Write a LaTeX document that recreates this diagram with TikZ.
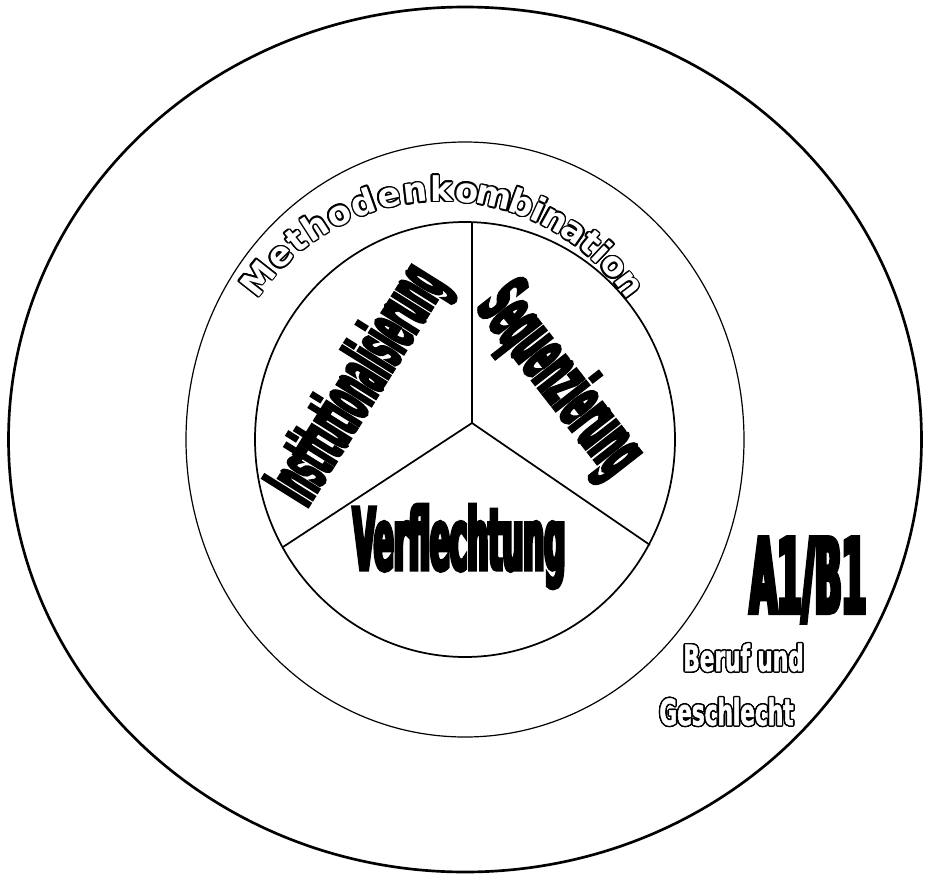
\documentclass[tikz,border=0pt]{standalone}
\usepackage{fontspec}
\usepackage{contour}
\contourlength{1.1pt}
\newfontfamily\heavyfont{DejaVu Sans}[UprightFont=* Bold, FakeStretch=0.34, FakeBold=4]
\newfontfamily\heavyslim{DejaVu Sans}[UprightFont=* Bold, FakeStretch=0.31, FakeBold=3.5]
\newfontfamily\narrowfont{DejaVu Sans}[UprightFont=* Bold, FakeStretch=0.6, FakeBold=1.5]
\newfontfamily\roundfont{DejaVu Sans}[UprightFont=* Bold]
\begin{document}
\begin{tikzpicture}[x=0.75pt, y=-0.75pt,
  outerring/.style={line width=2pt},
  midring/.style={line width=0.9pt},
  innerring/.style={line width=1.3pt},
  spoke/.style={line width=1.3pt},
  heavytext/.style={inner sep=0pt, text=black},
  mletter/.style={inner sep=0pt, anchor=base, text=white, font=\roundfont\fontsize{25.5}{27}\selectfont},
  outlinetext/.style={inner sep=0pt, anchor=base, text=white, font=\narrowfont\fontsize{27}{30}\selectfont}
]
\path[use as bounding box] (0,0) rectangle (925,875);
\coordinate (c) at (465,439.5);
\draw[outerring] (c) ellipse [x radius=342.375pt, y radius=324.375pt];
\draw[midring] (c) ellipse [x radius=209.25pt, y radius=223.125pt];
\draw[innerring] (c) ellipse [x radius=157.5pt, y radius=163.125pt];
\coordinate (hub) at (472,423);
\coordinate (sTop) at (472,222);
\coordinate (sLeft) at (283,547);
\coordinate (sRight) at (650,545);
\draw[spoke] (hub) -- (sTop);
\draw[spoke] (hub) -- (sLeft);
\draw[spoke] (hub) -- (sRight);
\node[heavytext, anchor=base, font=\heavyfont\fontsize{64.8}{70}\selectfont] (verf) at (459,570) {Verflechtung};
\node[heavytext, rotate=58, font=\heavyslim\fontsize{55.5}{60}\selectfont] (inst) at (360,386) {Institutionalisierung};
\node[heavytext, rotate=-52, font=\heavyfont\fontsize{57}{60}\selectfont] (seq) at (559,381) {Sequenzierung};
\node[heavytext, anchor=base, font=\heavyfont\fontsize{78}{80}\selectfont] (ab) at (808,613) {A1/B1};
\node[outlinetext] (beruf) at (743.5,671) {\contour{black}{Beruf und}};
\node[outlinetext] (geschl) at (726.5,725) {\contour{black}{Geschlecht}};
\foreach \ch/\a [count=\k] in {M/141.8, e/134.15, t/128.57, h/122.83, o/116.27, d/109.70, e/103.17, n/96.63, k/90.18, o/83.8, m/76.97, b/70.02, i/65.48, n/60.97, a/55.31, t/50.46, i/46.75, o/42.31, n/36.6}
  {\node[mletter, rotate=\a-90] (meth\k) at ({442+222*cos(\a)},{423-222*sin(\a)}) {\contour{black}{\ch}};}
\end{tikzpicture}
\end{document}
